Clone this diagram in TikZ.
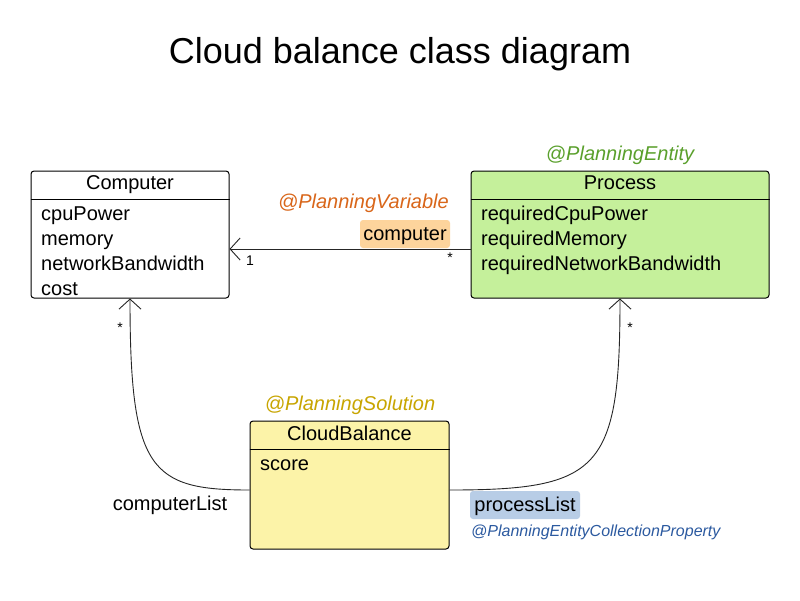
\documentclass[tikz,border=0pt]{standalone}
\usepackage{fontspec}
\setmainfont{Liberation Sans}
\usepackage{xcolor}
\usetikzlibrary{arrows.meta,calc}

\definecolor{entityfill}{HTML}{C5F09B}
\definecolor{solutionfill}{HTML}{FCF3A8}
\definecolor{varfill}{HTML}{FDD49C}
\definecolor{listfill}{HTML}{B8CDE6}
\definecolor{entitytext}{HTML}{5AA02C}
\definecolor{vartext}{HTML}{D9661A}
\definecolor{solutiontext}{HTML}{C8A500}
\definecolor{listtext}{HTML}{2C5AA0}

\begin{document}
\begin{tikzpicture}[x=1pt, y=-1pt,
  classbox/.style={rectangle, rounded corners=3pt, draw=black, line width=1pt, inner sep=0pt},
  classname/.style={anchor=base, inner sep=0pt, font=\fontsize{20}{22}\selectfont},
  attr/.style={anchor=base west, inner sep=0pt, font=\fontsize{20}{22}\selectfont},
  annot/.style={anchor=base, inner sep=0pt, font=\fontsize{20}{22}\selectfont\itshape},
  tag/.style={rectangle, rounded corners=3pt, inner sep=0pt, text height=13pt, text depth=1pt,
              minimum height=28pt, font=\fontsize{20}{22}\selectfont},
  mult/.style={inner sep=0pt, font=\fontsize{14}{15}\selectfont},
  assoc/.style={-{Straight Barb[length=10pt, width=22pt]}, line width=0.9pt, black!85},
]
\useasboundingbox[fill=white] (0,0) rectangle (800,600);

% title
\node[anchor=base, inner sep=0pt, font=\fontsize{36}{40}\selectfont] (title) at (400,63)
  {Cloud balance class diagram};

% classes
\node[classbox, fill=white, minimum width=198pt, minimum height=127pt] (computer) at (130,234.5) {};
\node[classbox, fill=entityfill, minimum width=298pt, minimum height=127pt] (process) at (620,234.5) {};
\node[classbox, fill=solutionfill, minimum width=199pt, minimum height=128pt] (cloudbalance) at (349.5,485) {};

\draw[line width=1pt] ($(computer.north west)+(0,29)$) -- ($(computer.north east)+(0,29)$);
\draw[line width=1pt] ($(process.north west)+(0,29)$) -- ($(process.north east)+(0,29)$);
\draw[line width=1pt] ($(cloudbalance.north west)+(0,29)$) -- ($(cloudbalance.north east)+(0,29)$);

\node[classname] (computername) at (130,189) {Computer};
\node[attr] (cpupower)  at (41,220) {cpuPower};
\node[attr] (memory)    at (41,245) {memory};
\node[attr] (bandwidth) at (41,270) {networkBandwidth};
\node[attr] (cost)      at (41,295) {cost};

\node[classname] (processname) at (620,189) {Process};
\node[attr] (reqcpu)       at (481,220) {requiredCpuPower};
\node[attr] (reqmemory)    at (481,245) {requiredMemory};
\node[attr] (reqbandwidth) at (481,270) {requiredNetworkBandwidth};

\node[classname] (cloudbalancename) at (349.5,440) {CloudBalance};
\node[attr] (score) at (260,470) {score};

% annotations
\node[annot, text=entitytext] (entityannot) at (620,160) {@PlanningEntity};
\node[annot, anchor=base east, text=vartext] (varannot) at (449,208) {@PlanningVariable};
\node[annot, text=solutiontext] (solutionannot) at (350,410) {@PlanningSolution};
\node[tag, fill=varfill, minimum width=90pt] (computervar) at (405,234) {computer};
\node[tag, fill=listfill, minimum width=110pt] (processlist) at (525,505) {processList};
\node[annot, anchor=base west, text=listtext, font=\fontsize{16}{18}\selectfont\itshape]
  (collectionannot) at (471,536) {@PlanningEntityCollectionProperty};
\node[attr, anchor=base] (computerlist) at (170,510) {computerList};

% associations
\draw[assoc] ($(process.west)+(0,14.5)$) -- ($(computer.east)+(0,14.5)$);
\draw[assoc] ($(cloudbalance.west)+(0,5)$) .. controls (150,490) and (130,470) .. (computer.south);
\draw[assoc] ($(cloudbalance.east)+(0,5)$) .. controls (600,490) and (620,470) .. (process.south);

\node[mult] (onecomputer) at (250,261) {1};
\node[mult] (manyprocess) at (450,258) {*};
\node[mult] (manycomputers) at (120,328) {*};
\node[mult] (manyprocesses) at (630,328) {*};
\end{tikzpicture}
\end{document}
